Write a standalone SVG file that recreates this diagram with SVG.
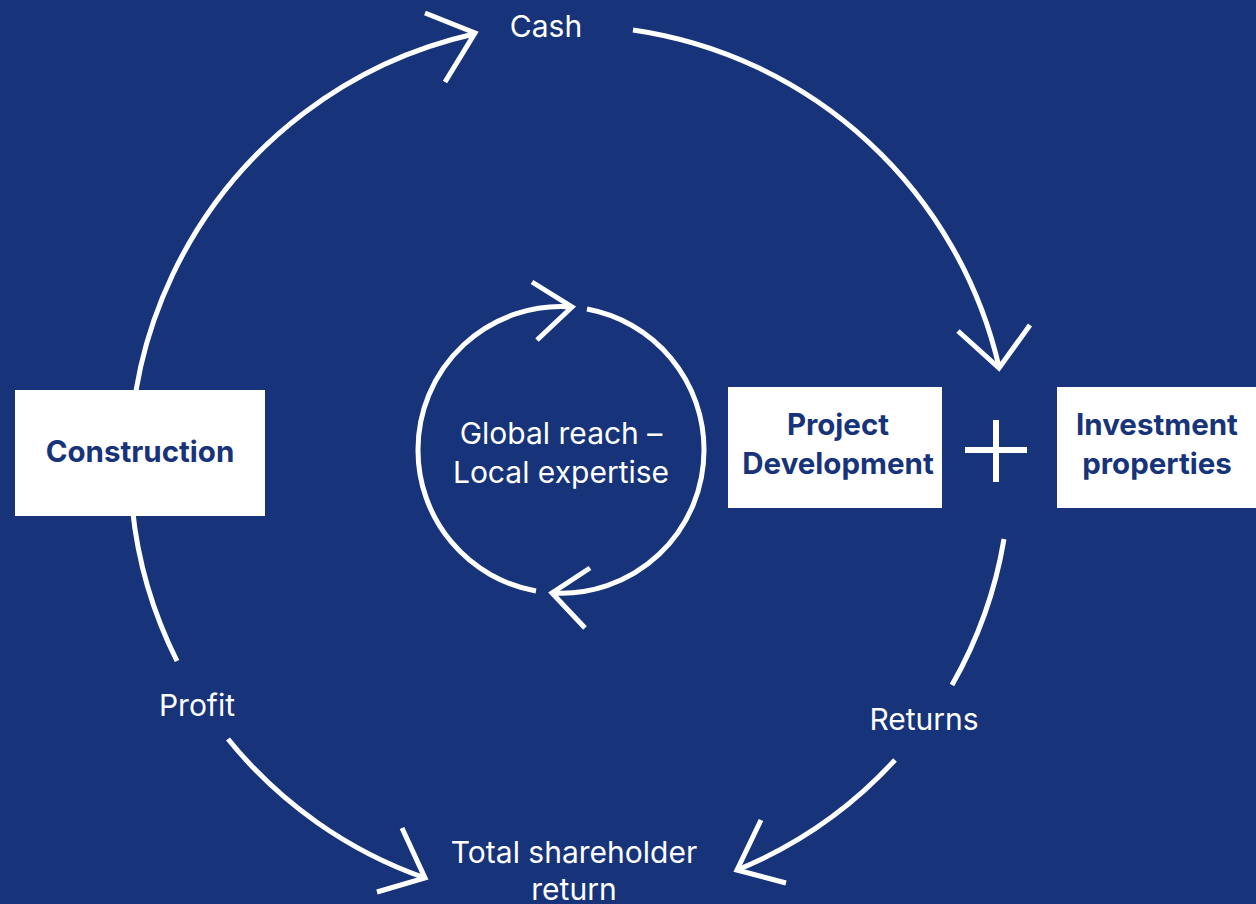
<svg xmlns="http://www.w3.org/2000/svg" width="1256" height="904" viewBox="0 0 1256 904">
  <style>
    .flow { fill: none; stroke: #ffffff; stroke-width: 5; stroke-linecap: butt; stroke-linejoin: miter; }
    .box { fill: #ffffff; }
    .label { fill: #ffffff; font-family: Inter, "Liberation Sans", sans-serif; font-size: 30px; text-anchor: middle; }
    .boxtext { fill: #17337a; font-family: Inter, "Liberation Sans", sans-serif; font-size: 29.5px; font-weight: 700; text-anchor: middle; }
  </style>
  <rect width="1256" height="904" fill="#17337a"/>

  <!-- connectors: outer cycle and inner loop -->
  <g id="connectors">
    <path class="flow" d="M177,661 A440,440 0 0 1 474,34"/>
    <polyline class="flow" points="425,13 475,33 445,82"/>
    <path class="flow" d="M633,30 A440,440 0 0 1 999,367"/>
    <polyline class="flow" points="958,331 999,368 1030,325"/>
    <path class="flow" d="M1004,539 A440,440 0 0 1 952,685"/>
    <path class="flow" d="M895,760 A440,440 0 0 1 737,870"/>
    <polyline class="flow" points="761,820 737,870 786,883"/>
    <path class="flow" d="M228,739 A440,440 0 0 0 425,878"/>
    <polyline class="flow" points="402,828 425,878 377,892"/>
    <!-- inner loop, centre (561,450), r 143 -->
    <path class="flow" d="M536,591 A143,143 0 0 1 418,450 A143,143 0 0 1 572,307"/>
    <polyline class="flow" points="532,282 572,307 537,340"/>
    <path class="flow" d="M587,309 A143,143 0 0 1 704,450 A143,143 0 0 1 552,593"/>
    <polyline class="flow" points="590,568 552,593 585,628"/>
  </g>

  <g id="construction">
    <rect class="box" x="15" y="390" width="250" height="126"/>
    <text class="boxtext" x="140" y="462">Construction</text>
  </g>

  <g id="project-development">
    <rect class="box" x="728" y="387" width="214" height="121"/>
    <text class="boxtext" x="838" y="435">Project</text>
    <text class="boxtext" x="838" y="474">Development</text>
  </g>

  <g id="plus">
    <path d="M996,420 V482 M965,450 H1027" fill="none" stroke="#ffffff" stroke-width="6"/>
  </g>

  <g id="investment-properties">
    <rect class="box" x="1057" y="387" width="210" height="121"/>
    <text class="boxtext" x="1157" y="435">Investment</text>
    <text class="boxtext" x="1157" y="474">properties</text>
  </g>

  <g id="cash"><text class="label" x="546" y="37">Cash</text></g>
  <g id="core">
    <text class="label" x="561" y="444">Global reach –</text>
    <text class="label" x="561" y="483">Local expertise</text>
  </g>
  <g id="profit"><text class="label" x="197" y="716">Profit</text></g>
  <g id="returns"><text class="label" x="924" y="730">Returns</text></g>
  <g id="tsr">
    <text class="label" x="574" y="863">Total shareholder</text>
    <text class="label" x="574" y="900">return</text>
  </g>
</svg>
